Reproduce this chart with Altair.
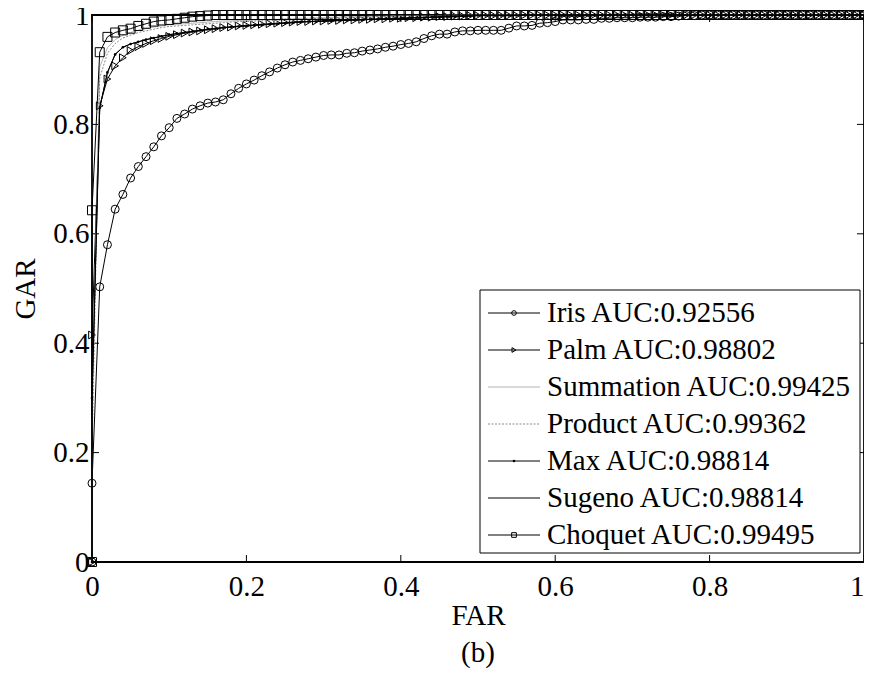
import altair as alt
import pandas as pd

FAR = [0, 0,
       0.01, 0.02, 0.03, 0.04, 0.05, 0.06, 0.07, 0.08, 0.09, 0.10,
       0.11, 0.12, 0.13, 0.14, 0.15, 0.16, 0.17, 0.18, 0.19, 0.20,
       0.21, 0.22, 0.23, 0.24, 0.25, 0.26, 0.27, 0.28, 0.29, 0.30,
       0.31, 0.32, 0.33, 0.34, 0.35, 0.36, 0.37, 0.38, 0.39, 0.40,
       0.41, 0.42, 0.43, 0.44, 0.45, 0.46, 0.47, 0.48, 0.49, 0.50,
       0.51, 0.52, 0.53, 0.54, 0.55, 0.56, 0.57, 0.58, 0.59, 0.60,
       0.61, 0.62, 0.63, 0.64, 0.65, 0.66, 0.67, 0.68, 0.69, 0.70,
       0.71, 0.72, 0.73, 0.74, 0.75, 0.76, 0.77, 0.78, 0.79, 0.80,
       0.81, 0.82, 0.83, 0.84, 0.85, 0.86, 0.87, 0.88, 0.89, 0.90,
       0.91, 0.92, 0.93, 0.94, 0.95, 0.96, 0.97, 0.98, 0.99, 1.00]

IRIS = [0, 0.144,
        0.503, 0.580, 0.645, 0.672, 0.702, 0.723, 0.741, 0.759, 0.779, 0.794,
        0.811, 0.819, 0.828, 0.834, 0.839, 0.841, 0.845, 0.856, 0.866, 0.874,
        0.881, 0.889, 0.896, 0.903, 0.909, 0.914, 0.917, 0.920, 0.923, 0.926,
        0.927, 0.927, 0.930, 0.931, 0.934, 0.936, 0.938, 0.941, 0.943, 0.946,
        0.948, 0.951, 0.957, 0.962, 0.965, 0.965, 0.969, 0.971, 0.971, 0.972,
        0.972, 0.972, 0.972, 0.976, 0.980, 0.980, 0.981, 0.985, 0.986, 0.988,
        0.991, 0.991, 0.991, 0.992, 0.992, 0.994, 0.994, 0.995, 0.995, 0.995,
        0.996, 0.996, 0.996, 0.997, 0.997, 0.998, 0.999, 0.999, 1, 1,
        1, 1, 1, 1, 1, 1, 1, 1, 1, 1,
        1, 1, 1, 1, 1, 1, 1, 1, 1, 1]

PALM = [0, 0.415,
        0.834, 0.883, 0.907, 0.922, 0.935, 0.942, 0.948, 0.953, 0.957, 0.961,
        0.964, 0.967, 0.969, 0.971, 0.973, 0.975, 0.977, 0.978, 0.980, 0.981,
        0.982, 0.983, 0.984, 0.985, 0.986, 0.987, 0.988, 0.988, 0.989, 0.989,
        0.990, 0.990, 0.991, 0.991, 0.992, 0.992, 0.993, 0.993, 0.994, 0.994,
        0.995, 0.995, 0.996, 0.996, 0.997, 0.997, 0.998, 0.998, 0.999, 0.999,
        0.999, 0.999, 0.999, 0.999, 0.999, 1, 1, 1, 1, 1,
        1, 1, 1, 1, 1, 1, 1, 1, 1, 1,
        1, 1, 1, 1, 1, 1, 1, 1, 1, 1,
        1, 1, 1, 1, 1, 1, 1, 1, 1, 1,
        1, 1, 1, 1, 1, 1, 1, 1, 1, 1]

SUMMATION = [0, 0.25,
             0.905, 0.940, 0.955, 0.963, 0.968, 0.972, 0.975, 0.978, 0.980, 0.982,
             0.983, 0.984, 0.985, 0.986, 0.987, 0.988, 0.989, 0.989, 0.990, 0.990,
             0.991, 0.991, 0.992, 0.992, 0.993, 0.993, 0.994, 0.994, 0.995, 0.995,
             0.996, 0.996, 0.997, 0.997, 0.997, 0.998, 0.998, 0.998, 0.999, 0.999,
             0.999, 0.999, 0.999, 0.999, 0.999, 1, 1, 1, 1, 1,
             1, 1, 1, 1, 1, 1, 1, 1, 1, 1,
             1, 1, 1, 1, 1, 1, 1, 1, 1, 1,
             1, 1, 1, 1, 1, 1, 1, 1, 1, 1,
             1, 1, 1, 1, 1, 1, 1, 1, 1, 1,
             1, 1, 1, 1, 1, 1, 1, 1, 1, 1]

PRODUCT = [0, 0.20,
           0.885, 0.930, 0.948, 0.958, 0.963, 0.968, 0.971, 0.974, 0.977, 0.979,
           0.980, 0.981, 0.982, 0.983, 0.984, 0.985, 0.986, 0.987, 0.988, 0.988,
           0.989, 0.989, 0.990, 0.990, 0.991, 0.991, 0.992, 0.992, 0.993, 0.993,
           0.994, 0.994, 0.995, 0.995, 0.996, 0.996, 0.997, 0.997, 0.998, 0.998,
           0.999, 0.999, 0.999, 0.999, 0.999, 1, 1, 1, 1, 1,
           1, 1, 1, 1, 1, 1, 1, 1, 1, 1,
           1, 1, 1, 1, 1, 1, 1, 1, 1, 1,
           1, 1, 1, 1, 1, 1, 1, 1, 1, 1,
           1, 1, 1, 1, 1, 1, 1, 1, 1, 1,
           1, 1, 1, 1, 1, 1, 1, 1, 1, 1]

MAX = [0, 0.30,
       0.830, 0.895, 0.928, 0.941, 0.947, 0.951, 0.955, 0.958, 0.961, 0.964,
       0.966, 0.968, 0.970, 0.972, 0.974, 0.975, 0.977, 0.978, 0.979, 0.980,
       0.981, 0.982, 0.983, 0.984, 0.985, 0.986, 0.987, 0.988, 0.988, 0.989,
       0.989, 0.990, 0.990, 0.991, 0.991, 0.992, 0.992, 0.993, 0.993, 0.994,
       0.994, 0.995, 0.995, 0.996, 0.996, 0.997, 0.997, 0.998, 0.998, 0.999,
       0.999, 0.999, 0.999, 0.999, 0.999, 1, 1, 1, 1, 1,
       1, 1, 1, 1, 1, 1, 1, 1, 1, 1,
       1, 1, 1, 1, 1, 1, 1, 1, 1, 1,
       1, 1, 1, 1, 1, 1, 1, 1, 1, 1,
       1, 1, 1, 1, 1, 1, 1, 1, 1, 1]

SUGENO = [0, 0.30,
          0.830, 0.895, 0.928, 0.941, 0.947, 0.951, 0.955, 0.958, 0.961, 0.964,
          0.966, 0.968, 0.970, 0.972, 0.974, 0.975, 0.977, 0.978, 0.979, 0.980,
          0.981, 0.982, 0.983, 0.984, 0.985, 0.986, 0.987, 0.988, 0.988, 0.989,
          0.989, 0.990, 0.990, 0.991, 0.991, 0.992, 0.992, 0.993, 0.993, 0.994,
          0.994, 0.995, 0.995, 0.996, 0.996, 0.997, 0.997, 0.998, 0.998, 0.999,
          0.999, 0.999, 0.999, 0.999, 0.999, 1, 1, 1, 1, 1,
          1, 1, 1, 1, 1, 1, 1, 1, 1, 1,
          1, 1, 1, 1, 1, 1, 1, 1, 1, 1,
          1, 1, 1, 1, 1, 1, 1, 1, 1, 1,
          1, 1, 1, 1, 1, 1, 1, 1, 1, 1]

CHOQUET = [0, 0.643,
           0.932, 0.960, 0.968, 0.972, 0.975, 0.980, 0.984, 0.988, 0.990, 0.991,
           0.993, 0.995, 0.997, 0.998, 0.999, 1, 1, 1, 1, 1,
           1, 1, 1, 1, 1, 1, 1, 1, 1, 1,
           1, 1, 1, 1, 1, 1, 1, 1, 1, 1,
           1, 1, 1, 1, 1, 1, 1, 1, 1, 1,
           1, 1, 1, 1, 1, 1, 1, 1, 1, 1,
           1, 1, 1, 1, 1, 1, 1, 1, 1, 1,
           1, 1, 1, 1, 1, 1, 1, 1, 1, 1,
           1, 1, 1, 1, 1, 1, 1, 1, 1, 1,
           1, 1, 1, 1, 1, 1, 1, 1, 1, 1]

NAMES = ["Iris", "Palm", "Summation", "Product", "Max", "Sugeno", "Choquet"]
LABELS = ["Iris AUC:0.92556", "Palm AUC:0.98802", "Summation AUC:0.99425",
          "Product AUC:0.99362", "Max AUC:0.98814", "Sugeno AUC:0.98814",
          "Choquet AUC:0.99495"]
TICKS = [0, 0.2, 0.4, 0.6, 0.8, 1]

# ---- style ----
W, H = 772, 547
FONT = "Liberation Serif"
FS = 29
COLORS = ["#000000", "#000000", "#b4b4b4", "#8a8a8a", "#000000", "#000000", "#000000"]
DASHES = [[1, 0], [1, 0], [1, 0], [2, 1.5], [1, 0], [1, 0], [1, 0]]

xs = alt.Scale(domain=[0, 1], nice=False, zero=False)
ys = alt.Scale(domain=[0, 1], nice=False, zero=False)
x_axis = alt.Axis(title="FAR", values=TICKS, format="~g", ticks=False, domain=False,
                  grid=False, labelFont=FONT, labelFontSize=FS, labelColor="black",
                  labelAlign={"condition": {"test": "datum.value == 1", "value": "right"},
                              "value": "center"},
                  titleFont=FONT, titleFontSize=FS, titleFontWeight="normal",
                  titleColor="black", labelPadding=10, titlePadding=0,
                  labelFlush=False, labelOverlap=False)
y_axis = alt.Axis(title="GAR", values=TICKS, format="~g", ticks=False, domain=False,
                  grid=False, labelFont=FONT, labelFontSize=FS, labelColor="black",
                  titleFont=FONT, titleFontSize=FS, titleFontWeight="normal",
                  titleColor="black", labelPadding=3, titlePadding=12,
                  labelFlush=False, labelOverlap=False)


def X():
    return alt.X("FAR:Q", scale=xs, axis=x_axis)


def Y():
    return alt.Y("GAR:Q", scale=ys, axis=y_axis)


ALL = [IRIS, PALM, SUMMATION, PRODUCT, MAX, SUGENO, CHOQUET]
for v in ALL:
    assert len(v) == len(FAR)

# tick marks (inward) on all four sides
tx = pd.DataFrame({"FAR": TICKS})
ty = pd.DataFrame({"GAR": TICKS})
tick_layers = [
    alt.Chart(tx).mark_rule(color="black", strokeWidth=1).encode(x=X(), y=alt.value(H), y2=alt.value(H - 7)),
    alt.Chart(tx).mark_rule(color="black", strokeWidth=1).encode(x=X(), y=alt.value(0), y2=alt.value(7)),
    alt.Chart(ty).mark_rule(color="black", strokeWidth=1).encode(y=Y(), x=alt.value(0), x2=alt.value(7)),
    alt.Chart(ty).mark_rule(color="black", strokeWidth=1).encode(y=Y(), x=alt.value(W), x2=alt.value(W - 7)),
]

MARKERS = {"Iris": ("circle", 64, False), "Palm": ("triangle-right", 60, False),
           "Max": ("circle", 7, True), "Choquet": ("square", 81, False)}

data_layers = []
for name, vals, col, dash in zip(NAMES, ALL, COLORS, DASHES):
    d = pd.DataFrame({"FAR": FAR, "GAR": vals, "i": list(range(len(FAR)))})
    base = alt.Chart(d).encode(x=X(), y=Y(), order=alt.Order("i:Q"))
    if dash == [1, 0]:
        data_layers.append(base.mark_line(color=col, strokeWidth=1))
    else:
        data_layers.append(base.mark_line(color=col, strokeWidth=1, strokeDash=dash))
    if name in MARKERS:
        shp, sz, filled = MARKERS[name]
        if filled:
            data_layers.append(base.mark_point(shape=shp, size=sz, filled=True,
                                               color="black", opacity=1))
        else:
            data_layers.append(base.mark_point(shape=shp, size=sz, filled=False,
                                               color="black", strokeWidth=1, opacity=1))

data_group = alt.layer(*tick_layers, *data_layers)

# ---- legend (drawn manually) ----
leg = pd.DataFrame({"series": NAMES, "label": LABELS, "row": list(range(len(NAMES)))})
rowY = alt.Y("row:Q", scale=alt.Scale(domain=[0, 6], range=[298, 520]), axis=None)
box = alt.Chart(pd.DataFrame({"a": [0]})).mark_rect(
    fill="white", stroke="black", strokeWidth=1).encode(
    x=alt.value(388), x2=alt.value(768), y=alt.value(275), y2=alt.value(538))
leg_lines = alt.Chart(leg).mark_rule(strokeWidth=1).encode(
    x=alt.value(396), x2=alt.value(448), y=rowY,
    color=alt.Color("series:N", scale=alt.Scale(domain=NAMES, range=COLORS), legend=None),
    strokeDash=alt.StrokeDash("series:N", scale=alt.Scale(domain=NAMES, range=DASHES), legend=None))
open_names = ["Iris", "Palm", "Choquet"]
leg_open = alt.Chart(leg[leg.series.isin(open_names)]).mark_point(
    filled=False, color="black", size=22, strokeWidth=1, opacity=1).encode(
    x=alt.value(422), y=rowY,
    shape=alt.Shape("series:N", scale=alt.Scale(domain=open_names,
                                                 range=["circle", "triangle-right", "square"]),
                    legend=None))
leg_dot = alt.Chart(leg[leg.series == "Max"]).mark_point(
    filled=True, shape="circle", color="black", size=7, opacity=1).encode(
    x=alt.value(422), y=rowY)
leg_text = alt.Chart(leg).mark_text(
    align="left", baseline="middle", font=FONT, fontSize=FS, color="black").encode(
    x=alt.value(455), y=rowY, text="label:N")
legend_group = alt.layer(box, leg_lines, leg_open, leg_dot, leg_text)

chart = alt.layer(data_group, legend_group).resolve_scale(y="independent").properties(
    width=W, height=H,
    autosize=alt.AutoSizeParams(type="none"),
    padding={"left": 84, "top": 7, "right": 0, "bottom": 115},
    title=alt.TitleParams("(b)", orient="bottom", anchor="middle", font=FONT,
                          fontSize=FS, fontWeight="normal", color="black", offset=9),
).configure_view(stroke="black", strokeWidth=1.8)

chart.save("out.html", embed_options={"renderer": "svg", "actions": False})
